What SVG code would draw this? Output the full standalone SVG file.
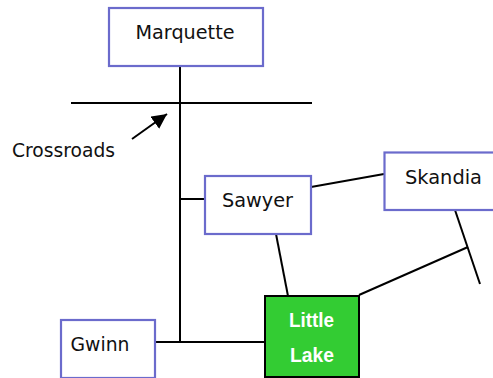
<svg xmlns="http://www.w3.org/2000/svg" width="493" height="378" viewBox="0 0 493 378">
<style>
.box{fill:#fff;stroke:#6b6bcc;stroke-width:2.2}
.lbl{font-family:"DejaVu Sans",sans-serif;font-size:19px;fill:#111}
.ll{font-family:"Liberation Sans",Arial,sans-serif;font-size:20px;font-weight:bold;fill:#fff}
.c{stroke:#000;stroke-width:2;fill:none}
</style>
<defs>
<marker id="ah" viewBox="0 0 10 10" refX="10" refY="5" markerWidth="7.5" markerHeight="7.5" orient="auto" markerUnits="strokeWidth">
<path d="M0,0 L10,5 L0,10 z" fill="#000"/>
</marker>
</defs>
<rect width="493" height="378" fill="#fff"/>
<g id="connectors">
<line class="c" x1="180" y1="66" x2="180" y2="343"/>
<line class="c" x1="71" y1="103" x2="312" y2="103"/>
<line class="c" x1="180" y1="199" x2="205" y2="199"/>
<line class="c" x1="155" y1="342" x2="265" y2="342"/>
<line class="c" x1="311" y1="187" x2="384" y2="174"/>
<line class="c" x1="276" y1="234" x2="288" y2="296"/>
<line class="c" x1="455" y1="210" x2="480" y2="284"/>
<line class="c" x1="359" y1="295" x2="468" y2="247"/>
<line class="c" x1="132" y1="139" x2="167" y2="114" marker-end="url(#ah)"/>
</g>
<g id="crossroads-label">
<text class="lbl" x="12" y="157" textLength="103" lengthAdjust="spacingAndGlyphs">Crossroads</text>
</g>
<g id="marquette">
<rect class="box" x="109" y="8" width="154" height="58"/>
<text class="lbl" x="135.5" y="39.3" textLength="99" lengthAdjust="spacingAndGlyphs">Marquette</text>
</g>
<g id="sawyer">
<rect class="box" x="205" y="176" width="106" height="58"/>
<text class="lbl" x="222" y="207" textLength="71" lengthAdjust="spacingAndGlyphs">Sawyer</text>
</g>
<g id="skandia">
<rect class="box" x="384.5" y="152.5" width="118" height="57.5"/>
<text class="lbl" x="405" y="183.5" textLength="77" lengthAdjust="spacingAndGlyphs">Skandia</text>
</g>
<g id="gwinn">
<rect class="box" x="61" y="320" width="94" height="58"/>
<text class="lbl" x="70.5" y="351" textLength="59" lengthAdjust="spacingAndGlyphs">Gwinn</text>
</g>
<g id="little-lake">
<rect x="265" y="296" width="94" height="81" fill="#33cc33" stroke="#000" stroke-width="2"/>
<text class="ll" x="289" y="327" textLength="45" lengthAdjust="spacingAndGlyphs">Little</text>
<text class="ll" x="290" y="362" textLength="44" lengthAdjust="spacingAndGlyphs">Lake</text>
</g>
</svg>
